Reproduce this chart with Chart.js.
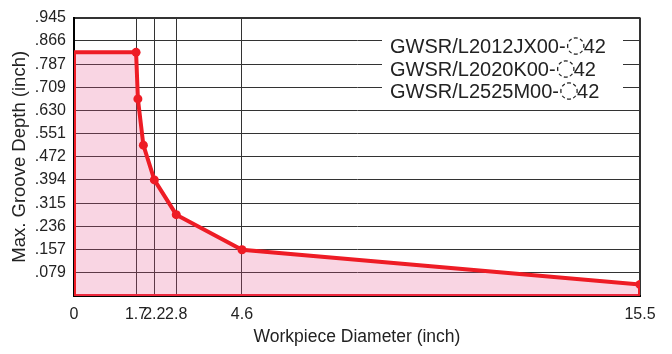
<!DOCTYPE html>
<html>
<head>
<meta charset="utf-8">
<title>Max. Groove Depth</title>
<script src="https://cdn.jsdelivr.net/npm/chart.js@4.4.1/dist/chart.umd.min.js"></script>
<style>
  html, body { margin: 0; padding: 0; background: #fff; }
  #wrap { width: 672px; height: 354px; }
</style>
</head>
<body>
<div id="wrap"><canvas id="chart" width="672" height="354"></canvas></div>
<script>
// workpiece diameter (inch) -> max groove depth (inch), outline of the usable area
const diameter = [0, 0, 1.7, 1.75, 1.9, 2.2, 2.8, 4.6, 15.5, 15.5]
const depth = [0, 0.827, 0.827, 0.669, 0.512, 0.394, 0.276, 0.157, 0.039, 0]

// tick marks
const xTicks = [0, 1.7, 2.2, 2.8, 4.6, 15.5]
const yTicks = [0.079, 0.157, 0.236, 0.315, 0.394, 0.472, 0.551, 0.630, 0.709, 0.787, 0.866, 0.945]
const yLabels = ['.079', '.157', '.236', '.315', '.394', '.472', '.551', '.630', '.709', '.787', '.866', '.945']

// holder names shown in the box: prefix + placeholder + suffix
const holders = ['GWSR/L2012JX00-', 'GWSR/L2020K00-', 'GWSR/L2525M00-']
const holderMark = '\u25CC'
const holderSuffix = '42'

const RED = '#ee1c25'
const FONT = "'Liberation Sans', Arial, sans-serif"

const outline = diameter.map((x, i) => ({ x: x, y: depth[i] }))

//holder list box, drawn over the grid
const holderBox = {
  id: 'holderBox',
  beforeDatasetsDraw(chart) {
    const c = chart.ctx
    c.save()
    c.fillStyle = '#fff'
    c.fillRect(382, 30, 241, 74)
    c.fillStyle = '#222'
    c.textBaseline = 'alphabetic'
    holders.forEach((h, i) => {
      const y = 53 + i * 22.5
      let x = 390
      c.font = '20px ' + FONT
      c.fillText(h, x, y)
      x += c.measureText(h).width
      c.font = "23px 'DejaVu Sans', sans-serif"
      c.fillText(holderMark, x, y - 1)
      x += c.measureText(holderMark).width - 2
      c.font = '20px ' + FONT
      c.fillText(holderSuffix, x, y)
    })
    c.restore()
  }
}

const ctx = document.getElementById('chart').getContext('2d')
const myChart = new Chart(ctx, {
  type: 'line',
  data: {
    datasets: [{
      data: outline,
      borderColor: RED,
      borderWidth: 4,
      backgroundColor: 'rgba(232, 80, 140, 0.24)',
      fill: 'origin',
      tension: 0,
      pointRadius: c => (c.dataIndex >= 2 && c.dataIndex <= 8) ? 4.5 : 0,
      pointBackgroundColor: RED,
      pointBorderColor: RED,
      pointBorderWidth: 0
    }, {
      // bottom edge of the area
      data: [{ x: 0, y: 0 }, { x: 15.5, y: 0 }],
      borderColor: RED,
      borderWidth: 4,
      pointRadius: 0,
      fill: false
    }]
  },
  options: {
    responsive: false,
    animation: false,
    layout: { padding: { left: 0, right: 32, top: 14, bottom: 0 } },
    plugins: {
      legend: { display: false },
      tooltip: { enabled: false }
    },
    scales: {
      x: {
        type: 'linear',
        min: 0,
        max: 15.5,
        afterBuildTicks: s => { s.ticks = xTicks.map(v => ({ value: v })) },
        afterFit: s => { s.height = 58 },
        ticks: {
          autoSkip: false,
          maxRotation: 0,
          padding: 9,
          color: '#222',
          font: { family: FONT, size: 16 },
          callback: v => String(v)
        },
        grid: {
          drawTicks: false,
          color: '#333',
          lineWidth: c => (c.tick && c.tick.value === 15.5) ? 2 : 1
        },
        border: { display: true, color: '#000', width: 2 },
        title: {
          display: true,
          text: 'Workpiece Diameter (inch)',
          color: '#222',
          font: { family: FONT, size: 17.5 },
          padding: { top: 0, bottom: 6 }
        }
      },
      y: {
        type: 'linear',
        min: 0,
        max: 0.945,
        afterBuildTicks: s => { s.ticks = [0].concat(yTicks).map(v => ({ value: v })) },
        afterFit: s => { s.width = 74 },
        ticks: {
          padding: 8,
          color: '#222',
          font: { family: FONT, size: 16 },
          callback: v => {
            const i = yTicks.indexOf(v)
            return i < 0 ? '' : yLabels[i]
          }
        },
        grid: {
          drawTicks: false,
          color: '#333',
          lineWidth: c => (c.tick && c.tick.value === 0.945) ? 2 : 1
        },
        border: { display: true, color: '#000', width: 2 },
        title: {
          display: true,
          text: 'Max. Groove Depth (inch)',
          color: '#222',
          font: { family: FONT, size: 18.5 },
          padding: { top: 9, bottom: 0 }
        }
      }
    }
  },
  plugins: [holderBox]
})
</script>
</body>
</html>
